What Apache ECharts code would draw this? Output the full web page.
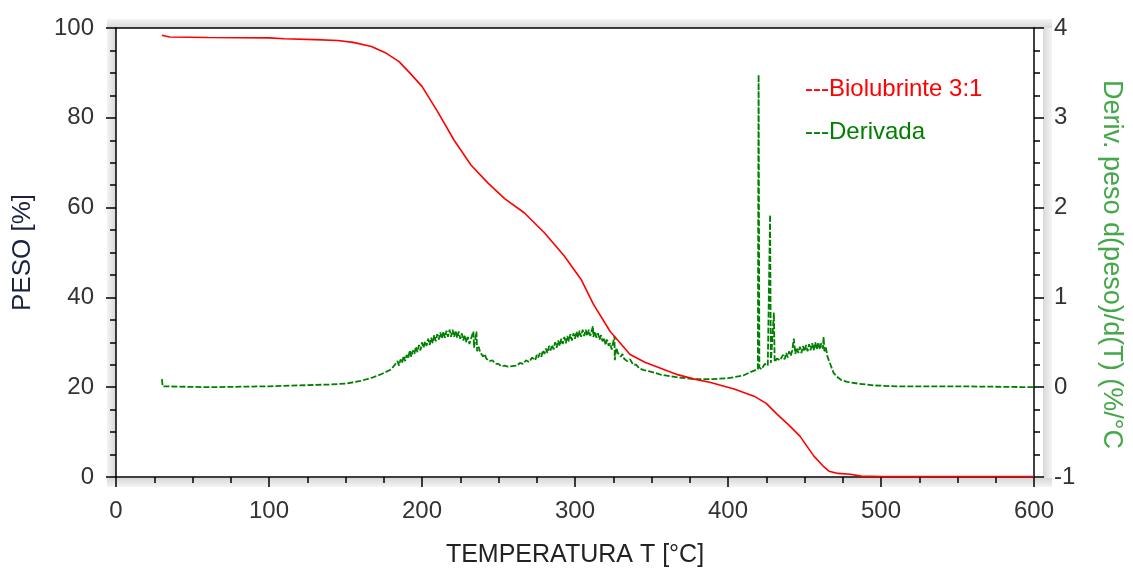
<!DOCTYPE html>
<html>
<head>
<meta charset="utf-8">
<script src="https://cdn.jsdelivr.net/npm/echarts@6/dist/echarts.min.js"></script>
<style>
  html, body { margin: 0; padding: 0; background: #fff; }
  #chart { width: 1133px; height: 573px; }
</style>
</head>
<body>
<div id="chart"></div>
<script>
// TGA: peso (%) vs temperatura (°C)
var pesoData = [
    [30, 98.4], [35, 98.0], [60, 97.9], [100, 97.8], [110, 97.6], [130, 97.4],
    [145, 97.2], [155, 96.8], [167, 95.9], [176, 94.5], [185, 92.5], [192, 90],
    [200, 87], [210, 81.5], [221, 75], [232, 69.5], [243, 65.5], [254, 62],
    [267, 58.8], [280, 54.4], [293, 49.2], [304, 44], [312, 38.5], [323, 32.4],
    [336, 27.3], [346, 25.5], [356, 24.2], [367, 22.8], [378, 21.8], [388, 21.1],
    [404, 19.6], [417, 18], [425, 16.4], [432, 14], [440, 11.5], [447, 9.1],
    [456, 4.7], [462, 2.5], [466, 1.3], [472, 0.8], [480, 0.6], [487, 0.2],
    [500, 0.1], [600, 0.1]
];

// DTG: derivada (%/°C) (com o ruído visível)
var derivData = [
    [30, 0.09], [30.5, 0.01], [60, 0.0], [100, 0.01], [120, 0.02], [140, 0.03],
    [150, 0.04], [160, 0.07], [168, 0.11], [174, 0.15], [180, 0.2],
    [184, 0.29], [185, 0.24], [186, 0.31], [187, 0.27], [188, 0.35], [189, 0.29],
    [190, 0.36], [191, 0.32], [192, 0.41], [193, 0.34], [194, 0.41], [195, 0.37],
    [196, 0.45], [197, 0.39], [198, 0.47], [199, 0.41], [200, 0.50], [201, 0.44],
    [202, 0.51], [203, 0.46], [204, 0.54], [205, 0.47], [206, 0.55], [207, 0.49],
    [208, 0.58], [209, 0.51], [210, 0.59], [211, 0.53], [212, 0.61], [213, 0.54],
    [214, 0.62], [215, 0.55], [216, 0.63], [217, 0.56], [218, 0.64], [219, 0.56],
    [220, 0.64], [221, 0.56], [222, 0.63], [223, 0.55], [224, 0.62], [225, 0.54],
    [226, 0.60], [227, 0.52], [228, 0.58], [229, 0.50], [230, 0.56], [231, 0.48],
    [232, 0.54], [233.6, 0.62], [234, 0.44], [235.6, 0.62], [236, 0.40], [237, 0.45],
    [238, 0.39], [239, 0.41], [240, 0.34], [241, 0.37], [242, 0.32], [243, 0.33],
    [244, 0.29], [246, 0.30], [248, 0.26], [250, 0.26], [252, 0.23], [254, 0.24],
    [256, 0.23],
    [262, 0.24], [264, 0.27], [266, 0.26], [268, 0.30], [270, 0.28], [272, 0.33],
    [274, 0.30], [275, 0.36], [276, 0.33], [277, 0.38], [278, 0.34], [279, 0.41],
    [280, 0.37], [281, 0.43], [282, 0.38], [283, 0.46], [284, 0.41], [285, 0.47],
    [286, 0.42], [287, 0.50], [288, 0.44], [289, 0.52], [290, 0.46], [291, 0.54],
    [292, 0.48], [293, 0.56], [294, 0.49], [295, 0.57], [296, 0.51], [297, 0.59],
    [298, 0.52], [299, 0.60], [300, 0.54], [301, 0.62], [302, 0.55], [303, 0.63],
    [304, 0.56], [305, 0.64], [306, 0.57], [307, 0.64], [308, 0.57], [309, 0.64],
    [310, 0.57], [311.7, 0.68], [312, 0.56], [313, 0.62], [314, 0.55], [315, 0.60],
    [316, 0.53], [317, 0.58], [318, 0.51], [319, 0.55], [320, 0.47], [321, 0.53],
    [322, 0.46], [323, 0.49], [324, 0.42], [325.8, 0.57], [326, 0.30], [327, 0.44],
    [328, 0.38], [329, 0.40], [330, 0.34], [331, 0.37], [332, 0.32], [333, 0.34],
    [334, 0.29], [336, 0.31], [338, 0.25], [340, 0.25], [342, 0.21], [345, 0.19],
    [350, 0.17], [356, 0.14], [367, 0.11], [378, 0.09],
    [390, 0.09], [400, 0.10], [410, 0.13], [415, 0.17], [418, 0.19], [419.5, 0.20],
    [420, 3.48], [420.5, 0.22], [422, 0.20], [424, 0.26], [426, 0.24], [427.5, 1.92],
    [428, 0.27], [429, 0.26], [430, 0.83], [430.5, 0.28], [432, 0.32], [434, 0.30],
    [436, 0.36], [437, 0.31], [438, 0.38], [439, 0.33], [440, 0.40], [441, 0.35],
    [442, 0.41], [443, 0.54], [444, 0.37], [445, 0.44], [446, 0.38], [447, 0.45],
    [448, 0.38], [449, 0.46], [450, 0.40], [451, 0.47], [452, 0.40], [453, 0.48],
    [454, 0.41], [455, 0.49], [456, 0.41], [457, 0.50], [458, 0.42], [459, 0.50],
    [460, 0.42], [461, 0.49], [462, 0.43], [462.5, 0.56], [463, 0.40], [464, 0.44],
    [465, 0.34], [467, 0.25], [469, 0.16], [471, 0.12], [474, 0.08], [478, 0.06],
    [485, 0.04], [495, 0.02], [510, 0.01], [550, 0.01], [600, 0.0]
];

var seriesNames = ['Biolubrinte 3:1', 'Derivada'];
var seriesColors = ['#ff0000', '#008000'];

var G = { left: 116, right: 90, top: 28, bottom: 95 };
var W = 1133, H = 573;
var font = 'Liberation Sans, Arial, sans-serif';

function axisLineStyle() {
    return { show: true, onZero: false, lineStyle: { color: '#000', width: 1.5 } };
}
function tickStyle() {
    return { show: true, length: 10, lineStyle: { color: '#000', width: 1.5 } };
}
function minorStyle() {
    return { show: true, splitNumber: 4, length: 6, lineStyle: { color: '#000', width: 1.5 } };
}

// faixas cinzentas por fora do quadro
var pl = G.left, pr = W - G.right, pt = G.top, pb = H - G.bottom;
var bw = 9;
function band(x, y, w, h, dir) {
    var light = '#f4f4f4', dark = '#d8d8d8';
    var g = dir === 'left' ? [0, 0, 1, 0, light, dark]
        : dir === 'right' ? [0, 0, 1, 0, dark, light]
        : dir === 'top' ? [0, 0, 0, 1, light, dark]
        : [0, 0, 0, 1, dark, light];
    return {
        type: 'rect', z: -1, silent: true,
        shape: { x: x, y: y, width: w, height: h },
        style: { fill: new echarts.graphic.LinearGradient(g[0], g[1], g[2], g[3],
            [{ offset: 0, color: g[4] }, { offset: 1, color: g[5] }]) }
    };
}

var chart = echarts.init(document.getElementById('chart'));
chart.setOption({
    animation: false,
    textStyle: { fontFamily: font },
    grid: { left: G.left, right: G.right, top: G.top, bottom: G.bottom, containLabel: false },
    legend: {
        orient: 'vertical',
        left: 795,
        top: 72,
        itemWidth: 0,
        itemHeight: 0,
        itemGap: 19,
        icon: 'none',
        formatter: '---{name}',
        data: seriesNames.map(function(n, i) {
            return { name: n, textStyle: { color: seriesColors[i], fontSize: 24 } };
        })
    },
    graphic: [
        band(pl - bw, pt - bw, bw, pb - pt + 2 * bw, 'left'),
        band(pr, pt - bw, bw, pb - pt + 2 * bw, 'right'),
        band(pl - bw, pt - bw, pr - pl + 2 * bw, bw, 'top'),
        band(pl - bw, pb, pr - pl + 2 * bw, bw, 'bottom'),
        { type: 'rect', z: 0, silent: true, shape: { x: pl, y: pt, width: pr - pl, height: pb - pt },
          style: { fill: '#fff' } }
    ],
    xAxis: [{
        type: 'value',
        min: 0, max: 600, interval: 100,
        name: 'TEMPERATURA T [°C]',
        nameLocation: 'middle',
        nameGap: 66,
        nameTextStyle: { fontSize: 25, color: '#222' },
        axisLine: axisLineStyle(),
        axisTick: tickStyle(),
        minorTick: minorStyle(),
        axisLabel: { fontSize: 24, color: '#333', margin: 22 },
        splitLine: { show: false }
    }, {
        type: 'value',
        position: 'top',
        min: 0, max: 600,
        axisLine: axisLineStyle(),
        axisTick: { show: false },
        axisLabel: { show: false },
        splitLine: { show: false }
    }],
    yAxis: [{
        type: 'value',
        min: 0, max: 100, interval: 20,
        name: 'PESO [%]',
        nameLocation: 'middle',
        nameGap: 80,
        nameTextStyle: { fontSize: 26, color: '#1a2340' },
        axisLine: axisLineStyle(),
        axisTick: tickStyle(),
        minorTick: minorStyle(),
        axisLabel: { fontSize: 24, color: '#333', margin: 22 },
        splitLine: { show: false }
    }, {
        type: 'value',
        position: 'right',
        min: -1, max: 4, interval: 1,
        name: 'Deriv. peso d(peso)/d(T) (%/°C',
        nameLocation: 'middle',
        nameGap: 64,
        nameRotate: -90,
        nameTextStyle: { fontSize: 27, color: '#45a84a', padding: [0, 0, 0, 24] },
        axisLine: axisLineStyle(),
        axisTick: tickStyle(),
        minorTick: minorStyle(),
        axisLabel: { fontSize: 24, color: '#333', margin: 20 },
        splitLine: { show: false }
    }],
    series: [{
        name: seriesNames[0],
        type: 'line',
        yAxisIndex: 0,
        showSymbol: false,
        data: pesoData,
        lineStyle: { color: seriesColors[0], width: 1.6 },
        itemStyle: { color: seriesColors[0] },
        z: 3
    }, {
        name: seriesNames[1],
        type: 'line',
        yAxisIndex: 1,
        showSymbol: false,
        data: derivData,
        lineStyle: { color: seriesColors[1], width: 1.8, type: [6, 2] },
        itemStyle: { color: seriesColors[1] },
        z: 2
    }]
});
</script>
</body>
</html>
